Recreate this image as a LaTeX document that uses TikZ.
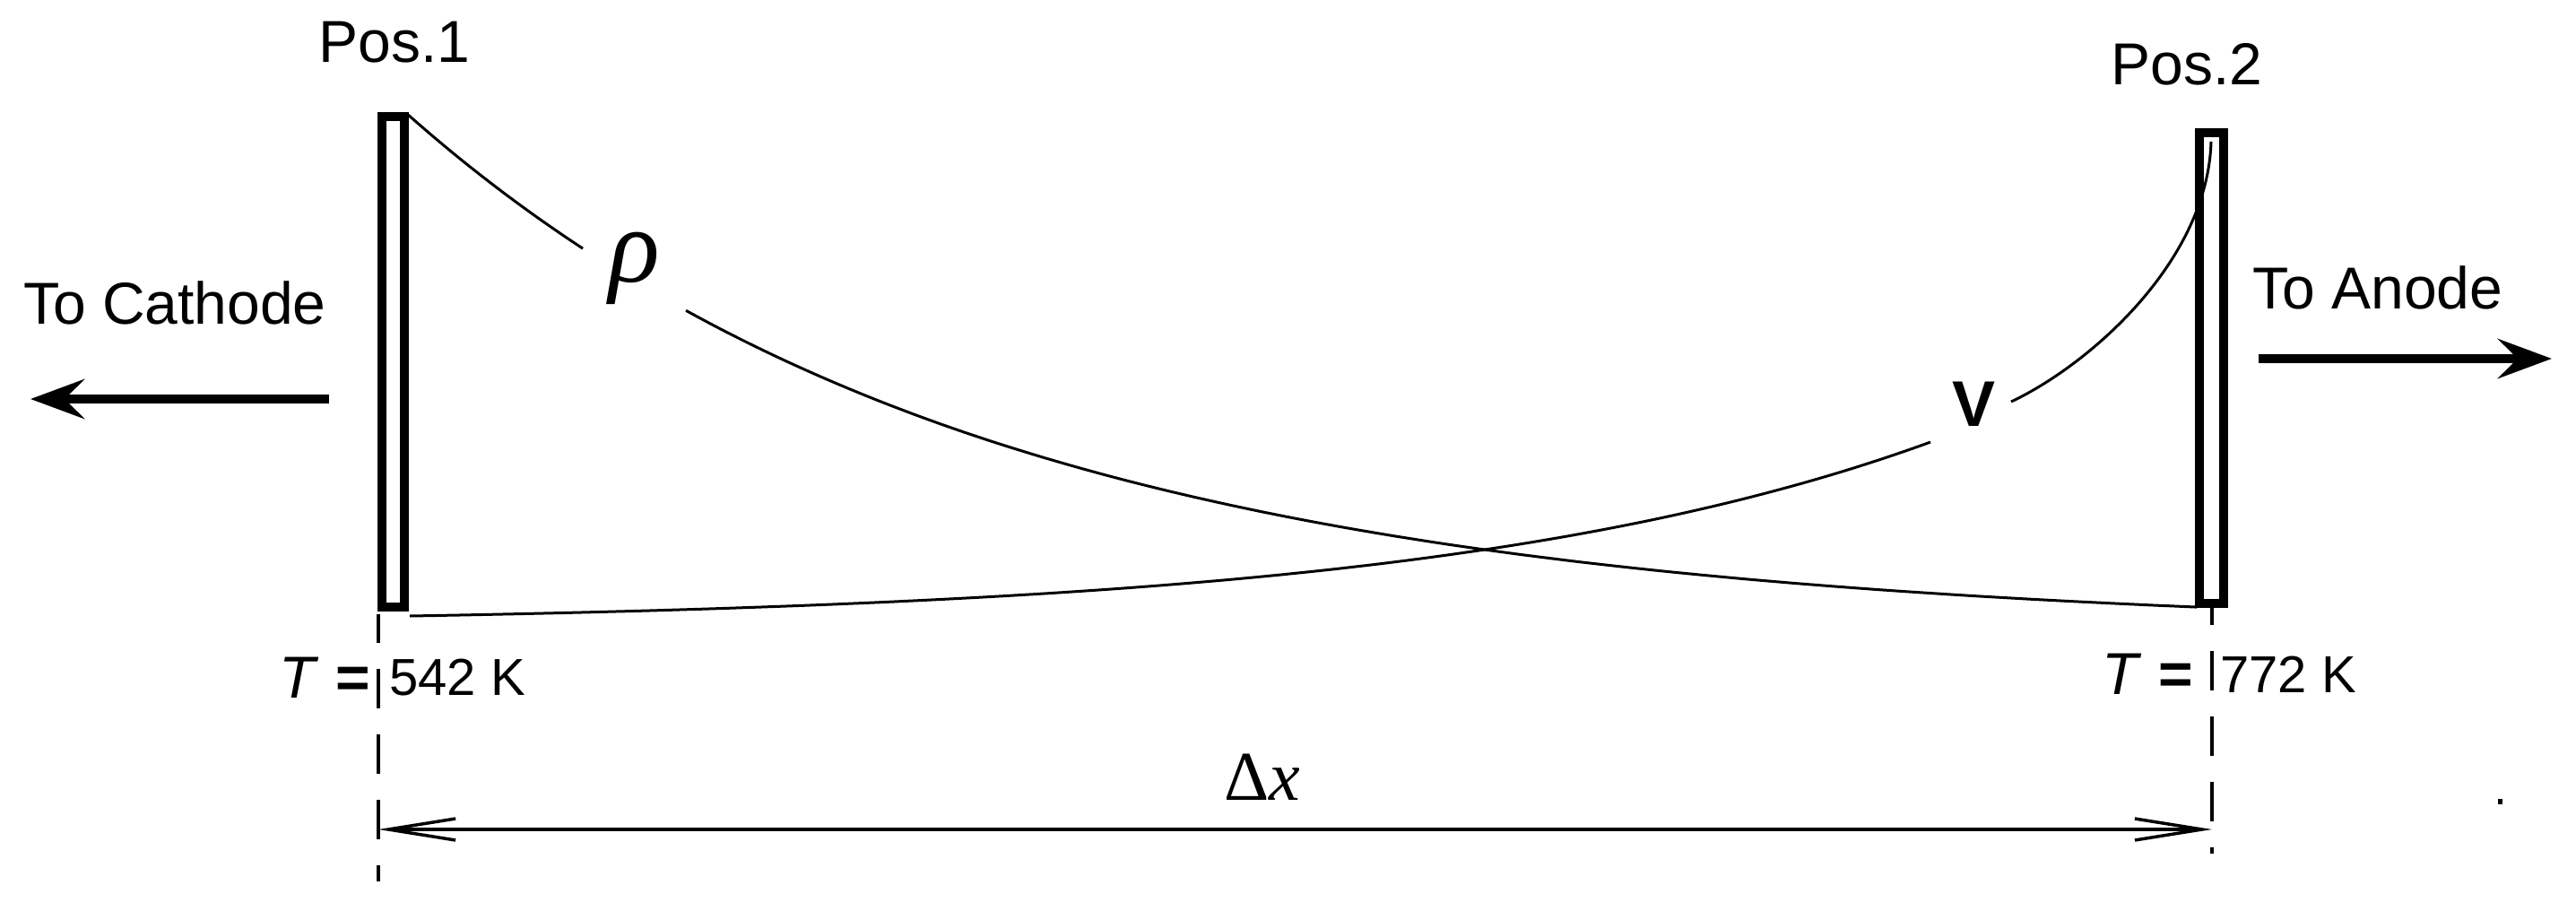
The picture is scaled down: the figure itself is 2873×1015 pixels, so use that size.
\documentclass[tikz,border=0pt]{standalone}
\usepackage{fontspec}
\setmainfont{Liberation Sans}
\newfontfamily\seriffont{Liberation Serif}
\usetikzlibrary{arrows.meta}
\begin{document}
\begin{tikzpicture}[x=1pt,y=-1pt,
  lbl/.style={inner sep=0pt, font=\fontsize{66}{70}\selectfont},
  numlbl/.style={inner sep=0pt, font=\fontsize{58}{64}\selectfont},
  electrode/.style={draw, line width=10pt, inner sep=0pt, rectangle},
  curve/.style={line width=3pt},
  bigarrow/.style={line width=10pt, -{Stealth[length=60pt,width=44pt,inset=22pt]}},
  dimline/.style={line width=3.5pt, dash pattern=on 44pt off 29pt},
  dimarrow/.style={line width=3.5pt, {Straight Barb[length=75pt,width=24pt]}-{Straight Barb[length=75pt,width=24pt]}}
]
\useasboundingbox (0,0) rectangle (2873,1015);

% electrodes
\node[electrode, minimum width=25pt, minimum height=547pt] (E1) at (438,403.5) {};
\node[electrode, minimum width=27pt, minimum height=525pt] (E2) at (2466.5,410.5) {};

% labels
\node[lbl] (pos1) at (440,47) {Pos.1};
\node[lbl] (pos2) at (2439,72) {Pos.2};
\node[lbl] (cath) at (195,338) {To Cathode};
\node[lbl] (anode) at (2652,321) {To Anode};
\node[inner sep=0pt, font=\fontsize{118}{124}\selectfont\seriffont\itshape] (rho) at (708,299) {ρ};
\node[inner sep=0pt, font=\fontsize{72}{76}\selectfont\bfseries] (V) at (2201,451) {V};
\node[lbl] (T1) at (362,756) {\textit{T} \textbf{=}};
\node[numlbl] (T1v) at (510,756) {542 K};
\node[lbl] (T2) at (2395,752) {\textit{T} \textbf{=}};
\node[numlbl] (T2v) at (2552,752) {772 K};
\node[inner sep=0pt, font=\fontsize{78}{82}\selectfont\seriffont] (dx) at (1408,867) {Δ\textit{x}};

% direction arrows
\coordinate (c1) at (367,445);
\coordinate (c2) at (34,445);
\coordinate (a1) at (2519,400);
\coordinate (a2) at (2846,400);
\draw[bigarrow] (c1) -- (c2);
\draw[bigarrow] (a1) -- (a2);

% rho curve (decaying exponential, broken around the label)
\draw[curve] plot[domain=455:650, samples=40] (\x, {677-575.8*(exp(-(\x-455)/650)-0.0465)});
\draw[curve] plot[domain=765:2450, samples=120] (\x, {677-575.8*(exp(-(\x-455)/650)-0.0465)});

% V curve (rising, broken around the label)
\draw[curve] plot[domain=457:2153, samples=120] (\x, {687-357*(exp(-(2467-\x)/560)-0.0276)});
\coordinate (v1) at (2243,448);
\coordinate (v2) at (2466,158);
\draw[curve] (v1) .. controls (2330,407) and (2462,292) .. (v2);

% dimension lines
\coordinate (d1t) at (422,685);
\coordinate (d1b) at (422,983);
\coordinate (d2t) at (2467,677);
\coordinate (d2b) at (2467,952);
\draw[dimline, dash phase=12pt] (d1t) -- (d1b);
\draw[dimline, dash phase=24pt] (d2t) -- (d2b);
\coordinate (m1) at (422,925);
\coordinate (m2) at (2467,925);
\draw[dimarrow] (m1) -- (m2);

% stray dot
\fill (2786,891) rectangle (2791,897);
\end{tikzpicture}
\end{document}
